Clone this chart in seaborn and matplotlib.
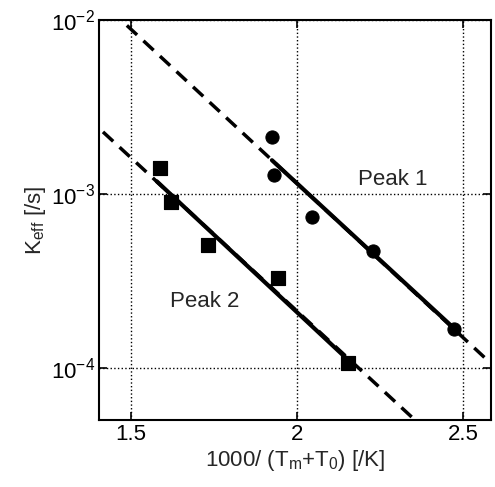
"""Arrhenius-style plot of effective rate constant for two peaks."""
import numpy as np
import pandas as pd
import matplotlib
matplotlib.use('Agg')
import matplotlib.pyplot as plt
import seaborn as sns

peak1_x = [1.925, 1.93, 2.045, 2.229, 2.473]
peak1_k = [2.13e-3, 1.29e-3, 7.4e-4, 4.7e-4, 1.66e-4]
peak2_x = [1.587, 1.62, 1.732, 1.943, 2.154]
peak2_k = [1.41e-3, 9.0e-4, 5.1e-4, 3.29e-4, 1.07e-4]

# fitted lines: solid over the data, dashed extrapolation
fit1_x = [1.925, 2.48]
fit1_k = [1.56e-3, 1.64e-4]
ext1_x = [1.488, 2.575]
ext1_k = [9.3e-3, 1.10e-4]
fit2_x = [1.578, 2.165]
fit2_k = [1.18e-3, 1.06e-4]
ext2_x = [1.416, 2.346]
ext2_k = [2.27e-3, 5.2e-5]

x_ticks = [1.5, 2, 2.5]
x_ticklabels = ['1.5', '2', '2.5']
y_ticks = [1e-4, 1e-3, 1e-2]
y_ticklabels = ['$10^{-4}$', '$10^{-3}$', '$10^{-2}$']


def main():
    sns.set_style('ticks')
    plt.rcParams['font.family'] = ['Liberation Sans', 'DejaVu Sans']
    plt.rcParams['mathtext.fontset'] = 'custom'
    plt.rcParams['mathtext.rm'] = 'Liberation Sans'
    plt.rcParams['mathtext.it'] = 'Liberation Sans'

    fig = plt.figure(figsize=(4.95, 4.87), dpi=100)
    ax = fig.add_axes([0.2, 0.138, 0.792, 0.821])

    # dashed extrapolations first, solid fits on top
    sns.lineplot(x=ext1_x, y=ext1_k, ax=ax, color='black', lw=2.5,
                 linestyle=(0, (4, 2.5)))
    sns.lineplot(x=ext2_x, y=ext2_k, ax=ax, color='black', lw=2.5,
                 linestyle=(0, (4, 2.5)))
    sns.lineplot(x=fit1_x, y=fit1_k, ax=ax, color='black', lw=3)
    sns.lineplot(x=fit2_x, y=fit2_k, ax=ax, color='black', lw=3)

    sns.scatterplot(x=peak1_x, y=peak1_k, ax=ax, marker='o', s=90,
                    color='black', edgecolor='black', zorder=5)
    sns.scatterplot(x=peak2_x, y=peak2_k, ax=ax, marker='s', s=110,
                    color='black', edgecolor='black', zorder=5)

    ax.set_yscale('log')
    ax.set_xlim(1.404, 2.585)
    ax.set_ylim(10 ** -4.3, 1e-2)
    ax.set_xticks(x_ticks)
    ax.set_xticklabels(x_ticklabels)
    ax.set_yticks(y_ticks)
    ax.set_yticklabels(y_ticklabels)
    ax.yaxis.set_minor_locator(matplotlib.ticker.NullLocator())
    ax.tick_params(direction='in', length=6, width=1.2, labelsize=16,
                   colors='black', top=True, right=True, pad=3)

    ax.grid(True, color='black', linestyle=':', linewidth=1)
    ax.set_axisbelow(True)
    for s in ax.spines.values():
        s.set_visible(True)
        s.set_color('black')
        s.set_linewidth(1.5)

    ax.text(2.29, 10 ** -2.92, 'Peak 1', fontsize=16, ha='center', va='center')
    ax.text(1.723, 10 ** -3.62, 'Peak 2', fontsize=16, ha='center', va='center')

    ax.set_xlabel('1000/ (T$_\\mathregular{m}$+T$_\\mathregular{0}$) [/K]',
                  fontsize=16, labelpad=2)
    ax.set_ylabel('K$_\\mathregular{eff}$ [/s]', fontsize=16, labelpad=2)

    fig.savefig('out.png', dpi=100)


if __name__ == '__main__':
    main()
